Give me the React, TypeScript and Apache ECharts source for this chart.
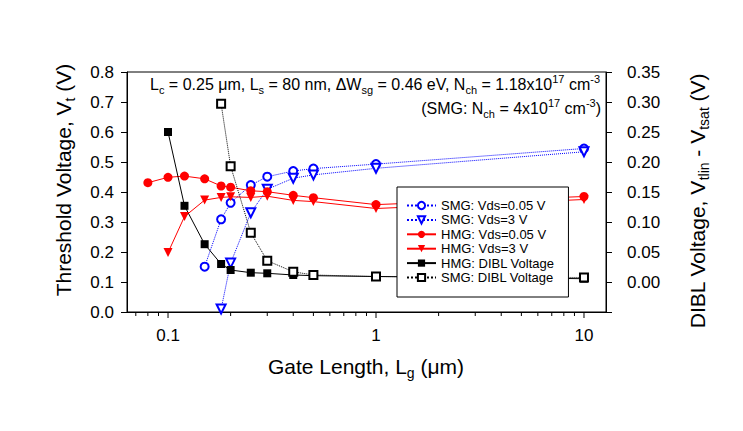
import React, { useEffect, useRef } from "react";
import * as echarts from "echarts";

const FONT = "'Liberation Sans', Arial, Helvetica, sans-serif";

// Gate lengths (µm) and values
const hmgLg005 = [0.08, 0.1, 0.12, 0.15, 0.18, 0.2, 0.25, 0.3, 0.4, 0.5, 1, 10];
const hmgVt005 = [0.431, 0.449, 0.453, 0.444, 0.42, 0.416, 0.404, 0.401, 0.389, 0.381, 0.358, 0.385];

const hmgLg3 = [0.1, 0.12, 0.15, 0.18, 0.2, 0.25, 0.3, 0.4, 0.5, 1, 10];
const hmgVt3 = [0.198, 0.318, 0.373, 0.382, 0.384, 0.382, 0.386, 0.372, 0.368, 0.345, 0.375];

const smgLg005 = [0.15, 0.18, 0.2, 0.25, 0.3, 0.4, 0.5, 1, 10];
const smgVt005 = [0.151, 0.309, 0.364, 0.423, 0.451, 0.47, 0.478, 0.493, 0.545];

const smgLg3 = [0.18, 0.2, 0.25, 0.3, 0.4, 0.5, 1, 10];
const smgVt3 = [0.01, 0.163, 0.331, 0.409, 0.446, 0.457, 0.479, 0.534];

const hmgDiblLg = [0.1, 0.12, 0.15, 0.18, 0.2, 0.25, 0.3, 0.4, 0.5, 1, 10];
const hmgDibl = [0.25, 0.127, 0.063, 0.03, 0.02, 0.0155, 0.0145, 0.0117, 0.0105, 0.0092, 0.0055];

const smgDiblLg = [0.18, 0.2, 0.25, 0.3, 0.4, 0.5, 1, 10];
const smgDibl = [0.297, 0.193, 0.082, 0.0355, 0.017, 0.0117, 0.009, 0.0075];

const xTicks = [
  0.07, 0.08, 0.09, 0.1, 0.2, 0.3, 0.4, 0.5, 0.6, 0.7, 0.8, 0.9, 1,
  2, 3, 4, 5, 6, 7, 8, 9, 10,
];

const seriesNames = [
  "SMG: Vds=0.05 V",
  "SMG: Vds=3 V",
  "HMG: Vds=0.05 V",
  "HMG: Vds=3 V",
  "HMG: DIBL Voltage",
  "SMG: DIBL Voltage",
];

const zip = (xs: number[], ys: number[]) => xs.map((x, i) => [x, ys[i]]);

const isDecade = (v: number) => {
  const l = Math.log10(v);
  return Math.abs(l - Math.round(l)) < 1e-6;
};

const BLUE = "#0000ff";
const RED = "#ff0000";

export default function App() {
  const ref = useRef<HTMLDivElement>(null);
  useEffect(() => {
    if (!ref.current) return;
    const chart = echarts.init(ref.current, undefined, { renderer: "svg" });
    const richBase = (size: number) => ({
      n: { fontSize: size, fontFamily: FONT, color: "#000", lineHeight: size + 6 },
      sub: { fontSize: Math.round(size * 0.68), fontFamily: FONT, color: "#000", verticalAlign: "bottom" },
      sup: { fontSize: Math.round(size * 0.68), fontFamily: FONT, color: "#000", verticalAlign: "top" },
    });
    chart.setOption({
      animation: false,
      backgroundColor: "#fff",
      grid: {
        left: 127,
        right: 137,
        top: 72,
        bottom: 119,
        show: true,
        borderColor: "#000",
        borderWidth: 1,
        backgroundColor: "transparent",
      },
      xAxis: {
        type: "log",
        logBase: 10,
        min: 0.0635,
        max: 12.76,
        axisLine: { show: true, lineStyle: { color: "#000", width: 1 } },
        axisTick: { show: false },
        splitLine: { show: false },
        minorTick: { show: false },
        axisLabel: {
          fontSize: 17,
          fontFamily: FONT,
          color: "#000",
          margin: 15,
          showMinLabel: false,
          showMaxLabel: false,
          formatter: (v: number) => (isDecade(v) ? String(Number(v.toPrecision(6))) : ""),
        },
      },
      yAxis: [
        {
          type: "value",
          min: 0,
          max: 0.8,
          interval: 0.1,
          axisLine: { show: true, lineStyle: { color: "#000", width: 1 } },
          axisTick: { show: true, length: 6, lineStyle: { color: "#000" } },
          splitLine: { show: false },
          axisLabel: {
            fontSize: 17,
            fontFamily: FONT,
            color: "#000",
            margin: 13,
            formatter: (v: number) => v.toFixed(1),
          },
        },
        {
          type: "value",
          position: "right",
          min: -0.05,
          max: 0.35,
          interval: 0.05,
          axisLine: { show: true, lineStyle: { color: "#000", width: 1 } },
          axisTick: { show: true, length: 6, lineStyle: { color: "#000" } },
          splitLine: { show: false },
          axisLabel: {
            fontSize: 17,
            fontFamily: FONT,
            color: "#000",
            margin: 21,
            formatter: (v: number) => (v < -1e-9 ? "" : v.toFixed(2)),
          },
        },
      ],
      legend: {
        orient: "vertical",
        left: 397,
        top: 187,
        itemWidth: 29,
        itemHeight: 9,
        itemGap: 1.4,
        padding: [12, 14, 13, 9],
        backgroundColor: "#fff",
        borderColor: "#000",
        borderWidth: 1,
        borderRadius: 0,
        textStyle: { fontSize: 13, fontFamily: FONT, color: "#000" },
        data: seriesNames,
      },
      graphic: [
        {
          type: "text",
          x: 600,
          y: 84,
          style: {
            text:
              "{n|L}{sub|c}{n| = 0.25 μm, L}{sub|s}{n| = 80 nm, ΔW}{sub|sg}{n| = 0.46 eV, N}{sub|ch}{n| = 1.18x10}{sup|17}{n| cm}{sup|-3}",
            rich: richBase(16),
            align: "right",
            verticalAlign: "middle",
            fontSize: 16,
            fontFamily: FONT,
          },
        },
        {
          type: "text",
          x: 601,
          y: 108,
          style: {
            text: "{n|(SMG: N}{sub|ch}{n| = 4x10}{sup|17}{n| cm}{sup|-3}{n|)}",
            rich: richBase(16),
            align: "right",
            verticalAlign: "middle",
            fontSize: 16,
            fontFamily: FONT,
          },
        },
        {
          type: "text",
          x: 63,
          y: 180,
          rotation: Math.PI / 2,
          style: {
            text: "{n|Threshold Voltage, V}{sub|t}{n| (V)}",
            rich: richBase(21),
            align: "center",
            verticalAlign: "middle",
            fontSize: 21,
            fontFamily: FONT,
          },
        },
        {
          type: "text",
          x: 697,
          y: 201,
          rotation: Math.PI / 2,
          style: {
            text: "{n|DIBL Voltage, V}{sub|tlin}{n| - V}{sub|tsat}{n| (V)}",
            rich: richBase(21),
            align: "center",
            verticalAlign: "middle",
            fontSize: 21,
            fontFamily: FONT,
          },
        },
        {
          type: "text",
          x: 366,
          y: 366,
          style: {
            text: "{n|Gate Length, L}{sub|g}{n| (μm)}",
            rich: richBase(21),
            align: "center",
            verticalAlign: "middle",
            fontSize: 21,
            fontFamily: FONT,
          },
        },
      ],
      series: [
        {
          name: seriesNames[0],
          type: "line",
          data: zip(smgLg005, smgVt005),
          symbol: "emptyCircle",
          symbolSize: 8,
          itemStyle: { color: BLUE, borderWidth: 1 },
          lineStyle: { color: BLUE, width: 1, type: "dotted" },
          z: 3,
        },
        {
          name: seriesNames[1],
          type: "line",
          data: zip(smgLg3, smgVt3),
          symbol: "emptyTriangle",
          symbolRotate: 180,
          symbolSize: 9,
          itemStyle: { color: BLUE, borderWidth: 1 },
          lineStyle: { color: BLUE, width: 1, type: "dotted" },
          z: 3,
        },
        {
          name: seriesNames[2],
          type: "line",
          data: zip(hmgLg005, hmgVt005),
          symbol: "circle",
          symbolSize: 9,
          itemStyle: { color: RED },
          lineStyle: { color: RED, width: 1 },
          z: 3,
        },
        {
          name: seriesNames[3],
          type: "line",
          data: zip(hmgLg3, hmgVt3),
          symbol: "triangle",
          symbolRotate: 180,
          symbolSize: 9,
          itemStyle: { color: RED },
          lineStyle: { color: RED, width: 1 },
          z: 3,
        },
        {
          name: seriesNames[4],
          type: "line",
          yAxisIndex: 1,
          data: zip(hmgDiblLg, hmgDibl),
          symbol: "rect",
          symbolSize: 8,
          itemStyle: { color: "#000" },
          lineStyle: { color: "#000", width: 1 },
          z: 3,
        },
        {
          name: seriesNames[5],
          type: "line",
          yAxisIndex: 1,
          data: zip(smgDiblLg, smgDibl),
          symbol: "emptyRect",
          symbolSize: 8,
          itemStyle: { color: "#000", borderWidth: 1 },
          lineStyle: { color: "#000", width: 1, type: "dotted" },
          z: 3,
        },
        {
          name: "xticks",
          type: "custom",
          silent: true,
          clip: false,
          data: xTicks.map((v) => [v, 0]),
          renderItem: (_params: any, api: any) => {
            const v = api.value(0);
            const p = api.coord([v, 0]);
            const len = isDecade(v) ? 6 : 4;
            return {
              type: "line",
              shape: { x1: p[0], y1: p[1], x2: p[0], y2: p[1] + len },
              style: { stroke: "#000", lineWidth: 1 },
            };
          },
          z: 2,
        },
      ],
    });
    return () => chart.dispose();
  }, []);
  return (
    <div
      ref={ref}
      style={{ position: "fixed", left: 0, top: 0, width: 743, height: 431 }}
    />
  );
}
